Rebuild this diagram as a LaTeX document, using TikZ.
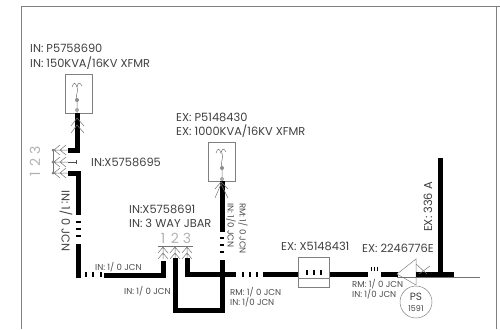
\documentclass[tikz,border=0pt]{standalone}
\usepackage{fontspec}
\setmainfont{Poppins}
\usetikzlibrary{positioning,shapes.geometric}
\tikzset{
  bus/.style={line width=5pt,black},
  wire/.style={line width=0.5pt,black!55},
  tick/.style={line width=1.3pt,black},
  lbl/.style={inner sep=0pt,text=black!75,font=\fontsize{11.4}{12}\selectfont,anchor=west},
  sml/.style={inner sep=0pt,text=black!70,font=\fontsize{8.6}{9}\selectfont,anchor=west},
  num/.style={inner sep=0pt,text=black!30,font=\fontsize{14}{15}\selectfont},
  xfmr/.style={draw=black!50,line width=0.5pt,minimum width=27pt,minimum height=39pt,inner sep=0pt}
}
\begin{document}
\begin{tikzpicture}[x=1pt,y=-1pt]
\useasboundingbox (0,0) rectangle (500,329);
\draw[black!50,line width=0.7pt] (21,329) -- (21,6) -- (500,6);
\draw[black!50,line width=0.7pt] (496,6) -- (496,329);
% first transformer
\node[lbl] (pa) at (30,48) {IN: P5758690};
\node[lbl] (pb) at (30,63) {IN: 150KVA/16KV XFMR};
\node[xfmr] (ta) at (78.5,93.5) {};
\draw[bus] (77.5,113) -- (77.5,150.5) -- (68,150.5);
\draw[wire] (71,126) -- (77,118) -- (84,126) (71,133) -- (77,125) -- (84,133);
\draw[wire] (72,87) .. controls (74,82) and (75,82) .. (77,87) .. controls (78,82) and (80,82) .. (82,86)
  (77,87) .. controls (79,92) and (75,94) .. (77,100) (77,100) -- (77,113);
\fill[black!45] (77,100) circle (2pt);
\fill[black!35] (77,110) circle (2pt);
% left j-bar
\node[num,rotate=90] (nc) at (35,150) {3};
\node[num,rotate=90] (nb) at (35,162) {2};
\node[num,rotate=90] (na) at (35,174) {1};
\draw[wire] (53,150) -- (53,173);
\foreach \yy in {150,162,173} {
  \draw[wire] (53,\yy) -- (68,\yy) (60,\yy-5) -- (54,\yy) -- (60,\yy+5) (66,\yy-5) -- (60,\yy) -- (66,\yy+5);
}
\draw[black!70,line width=0.7pt] (68,162) -- (76,162) (76,160) -- (76,164);
\fill[black!50] (53,150) circle (1.5pt) (53,162) circle (1.5pt) (53,173) circle (1.5pt);
\node[lbl] (xa) at (91,162) {IN:X5758695};
\draw[bus] (68,173) -- (78,173) -- (78,215);
\draw[tick] (76,222) -- (81,222) (76,229) -- (81,229) (76,236) -- (81,236);
\draw[bus] (78,244) -- (78,278);
\node[lbl,rotate=-90] (ja) at (66,190) {IN: 1/ 0 JCN};
\draw[tick] (86,272) -- (86,277) (93,272) -- (93,277) (101,272) -- (101,277);
\draw[bus] (104,275) -- (163,275) -- (163,261);
\node[sml] (jb) at (95,267) {IN: 1/ 0 JCN};
\node[sml] (jc) at (124,291) {IN: 1/ 0 JCN};
% three way jbar
\node[lbl] (jd) at (129,209) {IN:X5758691};
\node[lbl] (je) at (129,223) {IN: 3 WAY JBAR};
\node[num] (n1) at (163,238) {1};
\node[num] (n2) at (175,238) {2};
\node[num] (n3) at (187,238) {3};
\draw[wire] (158,246) -- (193,246);
\foreach \xx in {163,175,187} {
  \draw[wire] (\xx,246) -- (\xx,259) (\xx-5,253) -- (\xx,247) -- (\xx+5,253) (\xx-5,259) -- (\xx,253) -- (\xx+5,259);
}
% second transformer
\node[lbl] (pc) at (176,117) {EX: P5148430};
\node[lbl] (pd) at (176,131) {EX: 1000KVA/16KV XFMR};
\node[xfmr] (tb) at (222,162) {};
\draw[bus] (222,181) -- (222,232);
\draw[wire] (215,198) -- (221,184) -- (228,198) (215,189) -- (221,182) -- (228,189);
\draw[wire] (216,153) .. controls (218,148) and (219,148) .. (221,153) .. controls (222,148) and (224,148) .. (226,152)
  (222,153) .. controls (224,158) and (220,162) .. (222,168) -- (222,180);
\fill[black!45] (222,168) circle (2pt);
\fill[black!35] (222,179) circle (2pt);
\node[sml,rotate=-90] (rc) at (231,203) {IN: 1/0 JCN};
\node[sml,rotate=-90] (rd) at (243,203) {RM: 1/ 0 JCN};
\draw[tick] (220,238) -- (224,238) (220,245) -- (224,245) (220,252) -- (224,252);
% bus loops
\draw[bus] (222,260) -- (222,310) -- (175.5,310) -- (175.5,258);
\draw[bus] (187,258) -- (187,274) -- (236,274);
\draw[tick] (243,272) -- (243,277) (250,272) -- (250,277) (257,272) -- (257,277);
\draw[bus] (263,274) -- (298,274);
\node[sml] (re) at (230,292) {RM: 1/ 0 JCN};
\node[sml] (rf) at (230,302) {IN: 1/0 JCN};
% switch box
\node[draw=black!50,line width=0.6pt,minimum width=31pt,minimum height=30pt,inner sep=0pt] (sw) at (313.5,272) {};
\draw[black!50,line width=0.5pt] (sw.west |- 0,278) -- (sw.east |- 0,278);
\draw[tick] (307,270) -- (307,275) (314,270) -- (314,275) (321,270) -- (321,275);
\draw[bus] (330,274) -- (368,274);
\node[lbl] (sa) at (281,246) {EX: X5148431};
\node[lbl] (sb) at (362,248) {EX: 2246776E};
\draw[black,line width=0.5pt] (371,271) -- (371,267) (374,271) -- (374,267) (377,271) -- (377,267);
\draw[bus] (381,274) -- (398,274);
% potential switch
\node[lbl,rotate=90,anchor=center] (sc) at (428,207) {EX: 336 A};
\draw[black!50,line width=0.5pt,fill=white] (397,274) -- (416,259) -- (416,285) -- cycle;
\draw[bus] (416,274) -- (454,274);
\draw[bus] (440,158) -- (440,274);
\draw[wire] (416,264) -- (427,274) (419,274) -- (430,266);
\draw[wire] (397,277) -- (480,277);
\node[sml] (rg) at (352,284) {RM: 1/ 0 JCN};
\node[sml] (rh) at (352,294) {IN: 1/0 JCN};
\node[circle,draw=black!50,line width=0.5pt,minimum size=32pt,inner sep=0pt] (ps) at (416,302) {};
\node[inner sep=0pt,text=black!75,font=\fontsize{10.5}{11}\selectfont] (psa) at (416,297) {PS};
\node[inner sep=0pt,text=black!75,font=\fontsize{8}{9}\selectfont] (psb) at (416,309) {1591};
\end{tikzpicture}
\end{document}
